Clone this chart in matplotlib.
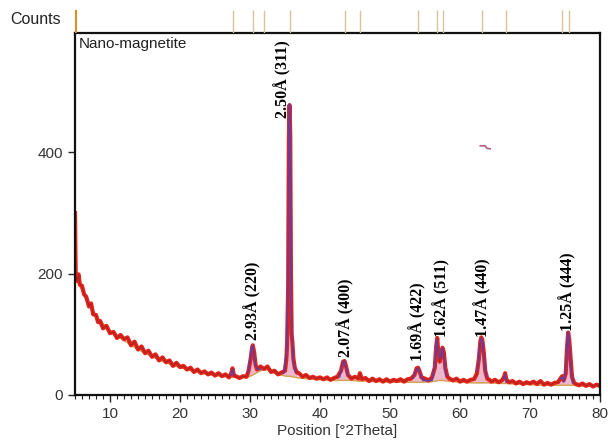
import matplotlib
matplotlib.use("Agg")
import matplotlib.pyplot as plt
import numpy as np
from matplotlib.ticker import MultipleLocator

obs_2theta = [
    5.0, 5.1, 5.3, 5.5, 5.7, 6.0, 6.3, 6.6, 7.0, 7.3, 7.6, 8.0, 8.3, 8.6, 9.0, 9.5,
    10.0, 10.5, 11.0, 11.5, 12.0, 12.5, 13.0, 13.5, 14.0, 14.5, 15.0, 15.5, 16.0,
    16.5, 17.0, 17.5, 18.0, 18.5, 19.0, 19.5, 20.0, 20.5, 21.0, 21.5, 22.0, 22.5,
    23.0, 23.5, 24.0, 24.5, 25.0, 25.5, 26.0, 26.5, 27.0, 27.3, 27.5, 27.7, 28.0,
    28.5, 29.0, 29.5, 29.8, 30.1, 30.3, 30.4, 30.6, 30.8, 31.0, 31.5, 32.0, 32.5,
    33.0, 33.5, 34.0, 34.5, 35.0, 35.2, 35.3, 35.45, 35.55, 35.65, 35.75, 35.85,
    35.95, 36.05, 36.2, 36.4, 36.7, 37.0, 37.5, 38.0, 38.5, 39.0, 39.5, 40.0, 40.5,
    41.0, 41.5, 42.0, 42.5, 43.0, 43.3, 43.5, 43.7, 44.0, 44.5, 45.0, 45.5, 45.7,
    46.0, 46.5, 47.0, 47.5, 48.0, 48.5, 49.0, 49.5, 50.0, 50.5, 51.0, 51.5, 52.0,
    52.5, 53.0, 53.5, 53.8, 54.0, 54.2, 54.5, 55.0, 55.5, 56.0, 56.4, 56.6, 56.75,
    56.9, 57.1, 57.3, 57.5, 57.7, 57.9, 58.2, 58.5, 59.0, 59.5, 60.0, 60.5, 61.0,
    61.5, 62.0, 62.4, 62.7, 62.9, 63.05, 63.2, 63.4, 63.6, 63.9, 64.2, 64.5, 65.0,
    65.5, 66.0, 66.3, 66.45, 66.6, 67.0, 67.5, 68.0, 68.5, 69.0, 69.5, 70.0, 70.5,
    71.0, 71.5, 72.0, 72.5, 73.0, 73.5, 74.0, 74.4, 74.6, 74.8, 75.1, 75.3, 75.45,
    75.6, 75.8, 76.0, 76.3, 76.6, 77.0, 77.5, 78.0, 78.5, 79.0, 79.5, 80.0,
]
obs_counts = [
    300, 196, 188, 199, 182, 180, 166, 162, 146, 151, 133, 132, 120, 122, 110, 114,
    102, 104, 94, 99, 92, 95, 82, 88, 75, 80, 69, 73, 63, 67, 57, 62, 54, 57, 48,
    53, 46, 48, 42, 45, 38, 42, 36, 39, 34, 37, 32, 36, 31, 34, 29, 35, 44, 32, 31,
    28, 31, 30, 40, 60, 78, 82, 70, 50, 42, 47, 43, 47, 38, 40, 34, 37, 40, 60,
    85, 180, 420, 478, 430, 200, 100, 88, 60, 45, 37, 36, 30, 33, 28, 30, 27, 29,
    26, 29, 25, 28, 30, 40, 55, 56, 48, 33, 27, 30, 27, 36, 26, 28, 23, 27, 23,
    26, 22, 26, 22, 25, 23, 26, 22, 26, 27, 33, 44, 45, 40, 29, 27, 24, 29, 45,
    80, 94, 70, 55, 68, 78, 70, 45, 30, 27, 24, 27, 22, 25, 22, 25, 26, 35, 60,
    88, 95, 90, 70, 40, 27, 25, 22, 25, 21, 24, 30, 36, 26, 21, 23, 19, 22, 18,
    21, 19, 22, 18, 23, 17, 20, 17, 20, 21, 28, 31, 24, 35, 80, 103, 92, 60, 30,
    20, 18, 16, 19, 15, 18, 14, 17, 15,
]

# fitted profile (purple) and background (tan) on a shared grid
prof_2theta = [
    5.2, 6, 7, 8, 9, 10, 11, 12, 13, 14, 15, 16, 17, 18, 19, 20, 21, 22, 23, 24,
    25, 26, 27, 27.3, 27.5, 27.7, 28, 29, 29.7, 30.0, 30.2, 30.35, 30.5, 30.7,
    31.0, 31.5, 32, 32.5, 33, 34, 34.8, 35.2, 35.4, 35.55, 35.65, 35.75, 35.9,
    36.0, 36.2, 36.5, 37, 38, 40, 42, 42.8, 43.2, 43.45, 43.7, 44.0, 44.5, 45.4,
    45.7, 46.0, 48, 50, 52, 53.3, 53.7, 54.0, 54.3, 54.7, 56, 56.4, 56.65, 56.9,
    57.15, 57.45, 57.7, 58.0, 58.5, 60, 62, 62.5, 62.8, 63.0, 63.2, 63.5, 63.8,
    64.3, 66, 66.3, 66.45, 66.6, 68, 70, 72, 74.0, 74.4, 74.6, 74.8, 75.1, 75.3,
    75.45, 75.6, 75.8, 76.1, 77, 80,
]
prof_bg = [
    190, 172, 150, 131, 118, 106, 97, 90, 82, 75, 69, 63, 58, 53, 49, 45, 42, 39,
    36, 34, 32, 31, 29, 29, 29, 29, 29, 29, 30, 31, 32, 33, 34, 35, 37, 40, 42,
    41, 38, 34, 32, 31, 31, 31, 31, 31, 30, 30, 30, 29, 28, 27, 25, 24, 24, 24,
    24, 24, 24, 24, 23, 23, 23, 22, 21, 21, 21, 21, 21, 21, 21, 22, 23, 23, 24,
    24, 24, 24, 23, 23, 21, 20, 20, 20, 20, 20, 20, 20, 20, 19, 19, 19, 19, 18,
    17, 16, 16, 16, 16, 16, 16, 16, 16, 16, 16, 16, 15, 14,
]
prof_calc = [
    190, 172, 150, 131, 118, 106, 97, 90, 82, 75, 69, 63, 58, 53, 49, 45, 42, 39,
    36, 34, 32, 31, 29, 33, 42, 33, 29, 29, 38, 58, 76, 82, 74, 52, 44, 42, 42,
    41, 38, 34, 36, 70, 160, 440, 480, 440, 150, 90, 55, 38, 28, 27, 25, 24, 30,
    50, 57, 46, 32, 24, 23, 34, 23, 22, 21, 21, 28, 40, 44, 36, 24, 24, 50, 92,
    66, 60, 78, 62, 32, 24, 21, 21, 40, 78, 94, 88, 52, 30, 20, 19, 28, 34, 21,
    18, 17, 16, 17, 27, 30, 22, 40, 88, 104, 90, 45, 20, 15, 14,
]

# reference pattern stick positions (top strip)
ref_2theta = [27.5, 30.4, 32.0, 35.7, 43.5, 45.7, 54.0, 56.7, 57.5, 63.1, 66.5, 74.6, 75.6]

# peak labels
peak_labels = ["2.93Å (220)", "2.50Å (311)", "2.07Å (400)", "1.69Å (422)",
               "1.62Å (511)", "1.47Å (440)", "1.25Å (444)"]
label_x = [30.4, 34.7, 43.7, 54.0, 57.4, 63.3, 75.4]
label_y = [91, 456, 63, 56, 96, 96, 106]

# stray mark near 63° in the original plot
mark_x = [62.9, 63.6, 63.8, 64.3]
mark_y = [411, 411, 407, 406]

plt.rcParams.update({
    "font.family": ["Liberation Sans", "DejaVu Sans"],
    "font.size": 11,
})

fig = plt.figure(figsize=(6.08, 4.43), dpi=100)
ax = fig.add_axes([75 / 608, 1 - 395 / 443, 525 / 608, 362 / 443])
top = fig.add_axes([75 / 608, 1 - 33 / 443, 525 / 608, 23 / 443], sharex=ax)

calc = np.array(prof_calc, dtype=float)
bg = np.array(prof_bg, dtype=float)
# fitted line only shows where it rises above the background
calc_peaks = np.ma.masked_where(calc - bg < 2, calc)

ax.fill_between(prof_2theta, bg, calc, color="#eab7cc", lw=0, zorder=1)
ax.plot(obs_2theta, obs_counts, color="#e1251d", lw=3.0, zorder=2)
ax.plot(obs_2theta, obs_counts, color="#7a1a1a", lw=0.5, alpha=0.6, zorder=2)
ax.plot(prof_2theta, bg, color="#d4a24c", lw=1.0, zorder=1.5)
ax.plot(prof_2theta, calc_peaks, color="#6b3a9e", lw=1.2, zorder=4)
ax.plot(mark_x, mark_y, color="#b0607a", lw=1.2)

for txt, x, y in zip(peak_labels, label_x, label_y):
    ax.text(x, y, txt, rotation=90, ha="center", va="bottom",
            family=["Liberation Serif", "DejaVu Serif"], fontweight="bold",
            fontsize=11.5, color="black")

ax.text(5.6, 590, "Nano-magnetite", ha="left", va="top", fontsize=11, color="#222222")

ax.set_xlim(5, 80)
ax.set_ylim(0, 597)
ax.set_yticks([0, 200, 400])
ax.set_xticks([10, 20, 30, 40, 50, 60, 70, 80])
ax.xaxis.set_minor_locator(MultipleLocator(1))
ax.tick_params(axis="both", which="major", direction="out", length=5, width=1,
               colors="#222222", labelcolor="#333333", labelsize=11)
ax.tick_params(axis="x", which="minor", direction="out", length=3, width=0.8,
               colors="#222222")
for s in ax.spines.values():
    s.set_linewidth(1.6)
    s.set_color("#111111")
ax.set_xlabel("Position [°2Theta]", fontsize=11, color="#333333", labelpad=2)

top.vlines(ref_2theta, 0, 1, color="#d8c49e", lw=1.0)
top.vlines([5.1], 0, 1, color="#e08a1e", lw=1.4)
top.set_ylim(0, 1)
top.axis("off")

fig.text(10 / 608, 1 - 20 / 443, "Counts", ha="left", va="center", fontsize=11.5,
         color="#222222")

fig.savefig("out.png", dpi=100)
